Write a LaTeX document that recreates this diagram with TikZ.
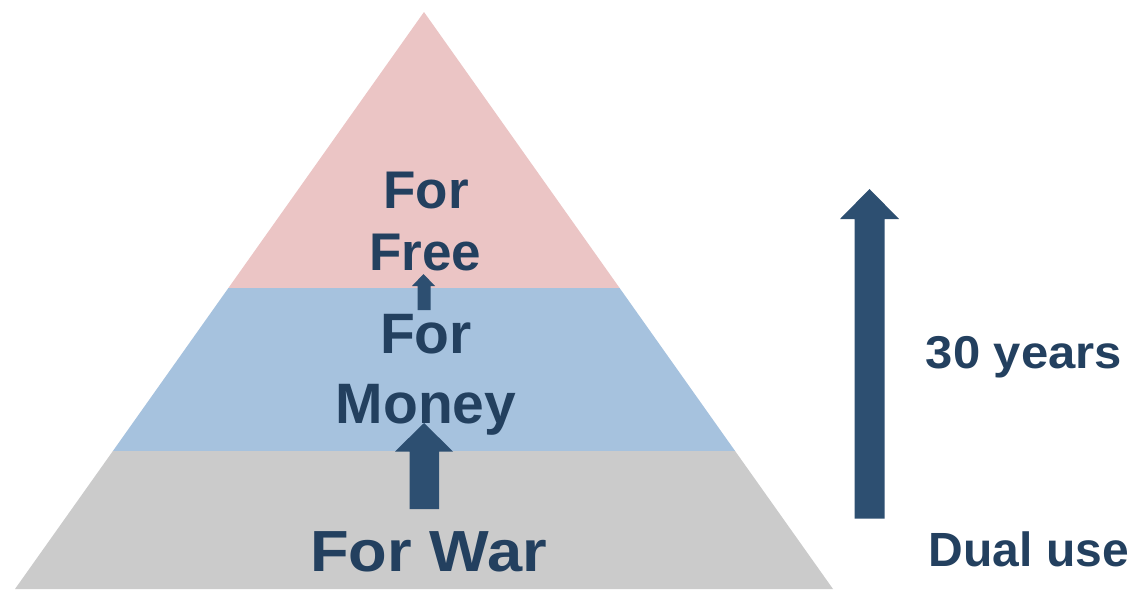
\documentclass[tikz,border=0pt]{standalone}
\usepackage{fontspec}
\setmainfont{Liberation Sans}
\definecolor{pinkband}{HTML}{EBC5C5}
\definecolor{blueband}{HTML}{A6C2DE}
\definecolor{grayband}{HTML}{CBCBCB}
\definecolor{txt}{HTML}{23405F}
\definecolor{arr}{HTML}{2D4F71}
\begin{document}
\begin{tikzpicture}[x=1pt,y=-1pt,
  lbl/.style={text=txt,font=\bfseries,inner sep=0pt,anchor=base},
  blockarrow/.style={fill=arr,draw=none}]
\useasboundingbox (0,0) rectangle (1139,589);
% bands
\fill[pinkband] (424,12) -- (619.6,288) -- (228.4,288) -- cycle;
\fill[blueband] (228.4,288) -- (619.6,288) -- (735.1,451) -- (112.9,451) -- cycle;
\fill[grayband] (112.9,451) -- (735.1,451) -- (833,589) -- (15,589) -- cycle;
% arrows
\fill[blockarrow] (423.5,274) -- (435,286) -- (430.5,286) -- (430.5,310) -- (417.5,310) -- (417.5,286) -- (412,286) -- cycle;
\fill[blockarrow] (424,423) -- (453,451.5) -- (439,451.5) -- (439,509) -- (409.5,509) -- (409.5,451.5) -- (395,451.5) -- cycle;
\fill[blockarrow] (869.5,189) -- (899,219) -- (884.5,219) -- (884.5,518.5) -- (854.5,518.5) -- (854.5,219) -- (840,219) -- cycle;
% labels
\node[lbl,font=\bfseries\fontsize{53}{53}\selectfont] (for1) at (426,208) {For};
\node[lbl,font=\bfseries\fontsize{53}{53}\selectfont] (free) at (425.5,270) {Free};
\node[lbl,font=\bfseries\fontsize{57}{57}\selectfont] (for2) at (426,353.5) {For};
\node[lbl,font=\bfseries\fontsize{57}{57}\selectfont] (money) at (426,423) {Money};
\node[lbl,font=\bfseries\fontsize{58}{58}\selectfont,xscale=1.09] (war) at (428.5,571.5) {For War};
\node[lbl,font=\bfseries\fontsize{46}{46}\selectfont,xscale=1.065] (years) at (1024,368) {30 years};
\node[lbl,font=\bfseries\fontsize{48}{48}\selectfont] (dual) at (1029,566.5) {Dual use};
\end{tikzpicture}
\end{document}
